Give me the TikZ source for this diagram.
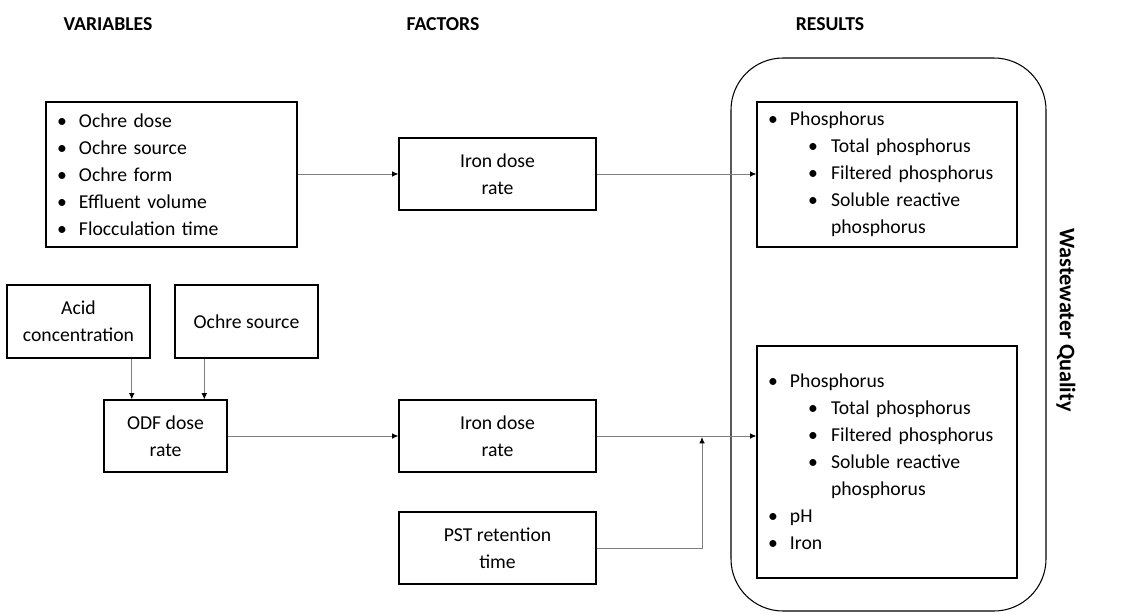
\documentclass[tikz,border=0pt]{standalone}
\usepackage{fontspec}
\setmainfont{Carlito}
\usepackage{tikz}
\usetikzlibrary{arrows.meta, positioning, calc}
\definecolor{linegray}{HTML}{7F7F7F}

\newcommand{\pu}{0.025cm}
\newcommand{\blt}{\makebox[0.55cm][l]{\textbullet}}
\newcommand{\sblt}{\hspace*{1.0cm}\makebox[0.575cm][l]{\textbullet}}
\newcommand{\cont}{\hspace*{1.575cm}}

\begin{document}
\begin{tikzpicture}[x=0.025cm, y=-0.025cm,
    txt/.style={font=\fontsize{14pt}{19.2pt}\selectfont},
    head/.style={font=\fontsize{14pt}{19.2pt}\selectfont\bfseries},
    box/.style={txt, draw=black, line width=0.75pt, align=center, inner sep=0pt},
    listbox/.style={box, align=left, inner xsep=0.275cm},
    conn/.style={draw=linegray, line width=0.7pt, -{Latex[length=4.5pt,width=4pt,color=black]}}]
    \useasboundingbox (0,0) rectangle (1138,613);

    % headings
    \node[head] (hvar) at (108,24) {VARIABLES};
    \node[head] (hfac) at (443,24) {FACTORS};
    \node[head] (hres) at (830,24) {RESULTS};

    % results container
    \node[draw=black, line width=0.75pt, rounded corners=1.3cm, minimum width=315*\pu, minimum height=553*\pu] (quality) at (888.5,334.5) {};
    \node[head, font=\fontsize{15.8pt}{19.2pt}\selectfont\bfseries, rotate=-90] (qlabel) at (1066,320) {Wastewater Quality};

    % top row
    \node[listbox, text width=229*\pu, minimum height=145*\pu] (vars) at (171.5,174.5) {
        \blt Ochre dose\\
        \blt Ochre source\\
        \blt Ochre form\\
        \blt Effluent volume\\
        \blt Flocculation time};
    \node[box, minimum width=197*\pu, minimum height=72*\pu] (iron1) at (497.5,174) {Iron dose\\rate};
    \node[listbox, text width=238*\pu, minimum height=145*\pu] (res1) at (887,174.5) {
        \blt Phosphorus\\
        \sblt Total phosphorus\\
        \sblt Filtered phosphorus\\
        \sblt Soluble reactive\\
        \cont phosphorus};

    % bottom row
    \node[box, minimum width=143*\pu, minimum height=73*\pu] (acid) at (78.5,321.5) {Acid\\concentration};
    \node[box, minimum width=143*\pu, minimum height=73*\pu] (ochre) at (246.5,321.5) {Ochre source};
    \node[box, minimum width=123*\pu, minimum height=72*\pu] (odf) at (165.5,436) {ODF dose\\rate};
    \node[box, minimum width=197*\pu, minimum height=72*\pu] (iron2) at (497.5,436) {Iron dose\\rate};
    \node[box, minimum width=197*\pu, minimum height=72*\pu] (pst) at (497.5,548) {PST retention\\time};
    \node[listbox, text width=238*\pu, minimum height=232*\pu] (res2) at (887,462) {
        \blt Phosphorus\\
        \sblt Total phosphorus\\
        \sblt Filtered phosphorus\\
        \sblt Soluble reactive\\
        \cont phosphorus\\
        \blt pH\\
        \blt Iron};

    \coordinate (odfin1) at ($(odf.north west)!0.228!(odf.north east)$);
    \coordinate (odfin2) at ($(odf.north west)!0.813!(odf.north east)$);
    \coordinate (join) at (702,437);

    % connectors
    \draw[conn] (vars.east |- iron1.west) -- (iron1.west);
    \draw[conn] (iron1.east) -- (iron1.east -| res1.west);
    \draw[conn] (odfin1 |- acid.south) -- (odfin1);
    \draw[conn] (odfin2 |- ochre.south) -- (odfin2);
    \draw[conn] (odf.east |- iron2.west) -- (iron2.west);
    \draw[conn] (iron2.east) -- (iron2.east -| res2.west);
    \draw[conn] (pst.east) -| (join);
\end{tikzpicture}
\end{document}
